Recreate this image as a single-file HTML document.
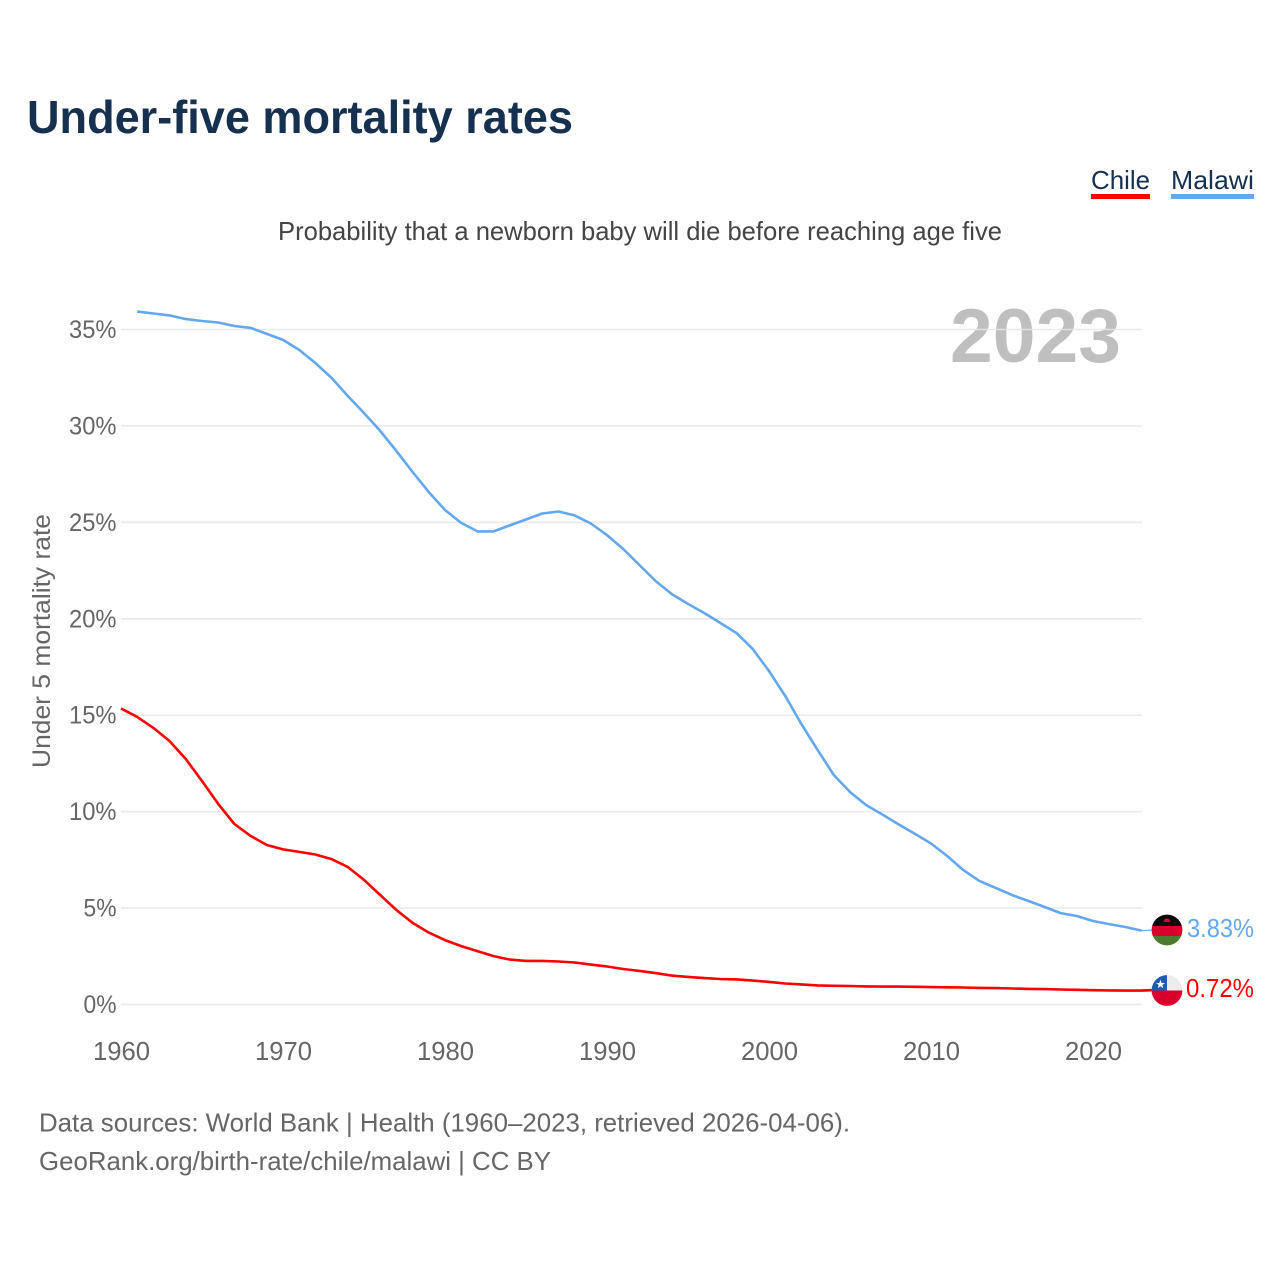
<!DOCTYPE html>
<html lang="en">
<head>
<meta charset="utf-8">
<title>Under-five mortality rates</title>
<style>
html,body{margin:0;padding:0;background:#fff;width:1280px;height:1280px;overflow:hidden}
svg{display:block;font-family:"Liberation Sans",sans-serif}
</style>
</head>
<body>
<svg id="chart" xmlns="http://www.w3.org/2000/svg" width="1280" height="1280" viewBox="0 0 1280 1280">
  <rect width="1280" height="1280" fill="#fff"/>
  <text x="27" y="133" font-size="46" font-weight="700" fill="#16304f" textLength="546" lengthAdjust="spacingAndGlyphs">Under-five mortality rates</text>
  <g>
    <g>
      <text x="1091" y="189" font-size="26" fill="#16304f" textLength="59" lengthAdjust="spacingAndGlyphs">Chile</text>
      <rect x="1091" y="194" width="59" height="5" fill="#ff0000"/>
    </g>
    <g>
      <text x="1171" y="189" font-size="26" fill="#16304f" textLength="83" lengthAdjust="spacingAndGlyphs">Malawi</text>
      <rect x="1171" y="194" width="83" height="5" fill="#63a8ef"/>
    </g>
  </g>
  <text x="278" y="240" font-size="26" fill="#444" textLength="724" lengthAdjust="spacingAndGlyphs">Probability that a newborn baby will die before reaching age five</text>
  <text x="950" y="362" font-size="76" font-weight="700" fill="#bfbfbf" textLength="171" lengthAdjust="spacingAndGlyphs">2023</text>
  <g id="grid"></g>
  <g id="yticks"></g>
  <g id="xticks"></g>
  <text transform="translate(50,768) rotate(-90)" font-size="25" fill="#666" textLength="254" lengthAdjust="spacingAndGlyphs">Under 5 mortality rate</text>
  <g id="series"></g>
  <defs>
    <clipPath id="clip-malawi"><circle cx="1167" cy="930" r="15.4"/></clipPath>
    <clipPath id="clip-chile"><circle cx="1167" cy="990.5" r="15.4"/></clipPath>
  </defs>
  <g clip-path="url(#clip-malawi)">
    <rect x="1151" y="914" width="32" height="12" fill="#0c0c0c"/>
    <rect x="1151" y="926" width="32" height="10" fill="#d9002c"/>
    <rect x="1151" y="936" width="32" height="11" fill="#4d7a2e"/>
    <path d="M1163.5 922 a3.5 3.5 0 0 1 7 0z" fill="#d9002c"/>
  </g>
  <g clip-path="url(#clip-chile)">
    <rect x="1151" y="975" width="32" height="15.5" fill="#ececec"/>
    <rect x="1151" y="990.5" width="32" height="16" fill="#d9002c"/>
    <rect x="1151" y="975" width="16" height="15.5" fill="#1d5cb4"/>
    <polygon points="1160.5,979.5 1161.7,983 1165,983 1162.3,985 1163.3,988.3 1160.5,986.3 1157.7,988.3 1158.7,985 1156,983 1159.3,983" fill="#fff"/>
  </g>
  <text x="1187" y="937" font-size="25.6" fill="#63a8ef" textLength="67" lengthAdjust="spacingAndGlyphs">3.83%</text>
  <text x="1186" y="997" font-size="25.6" fill="#ff0000" textLength="68" lengthAdjust="spacingAndGlyphs">0.72%</text>
  <text x="39" y="1131.5" font-size="26" fill="#666" textLength="811" lengthAdjust="spacingAndGlyphs">Data sources: World Bank | Health (1960–2023, retrieved 2026-04-06).</text>
  <text x="39" y="1170" font-size="26" fill="#666" textLength="512" lengthAdjust="spacingAndGlyphs">GeoRank.org/birth-rate/chile/malawi | CC BY</text>
</svg>
<script>
const yTickValues = [0, 5, 10, 15, 20, 25, 30, 35];
const xTickYears = [1960, 1970, 1980, 1990, 2000, 2010, 2020];
const malawiStartYear = 1961;
const malawiValues = [35.93,35.83,35.73,35.54,35.44,35.36,35.18,35.08,34.77,34.46,33.94,33.26,32.49,31.55,30.67,29.74,28.70,27.61,26.57,25.64,24.97,24.53,24.53,24.84,25.15,25.46,25.56,25.36,24.94,24.34,23.62,22.79,21.96,21.28,20.77,20.30,19.78,19.26,18.43,17.29,16.00,14.54,13.20,11.90,11.02,10.34,9.85,9.34,8.85,8.35,7.70,6.97,6.40,6.04,5.68,5.37,5.06,4.74,4.59,4.33,4.17,4.02,3.83];
const chileStartYear = 1960;
const chileValues = [15.35,14.91,14.34,13.66,12.73,11.59,10.40,9.36,8.74,8.27,8.04,7.91,7.78,7.54,7.13,6.46,5.68,4.90,4.23,3.73,3.34,3.03,2.77,2.51,2.33,2.26,2.26,2.23,2.18,2.07,1.97,1.84,1.74,1.63,1.50,1.43,1.37,1.32,1.30,1.24,1.17,1.09,1.04,0.99,0.97,0.96,0.94,0.93,0.93,0.92,0.90,0.89,0.88,0.86,0.85,0.83,0.81,0.80,0.78,0.76,0.74,0.73,0.72,0.72,0.76];

const NS = 'http://www.w3.org/2000/svg';
function xScale(year) { return 121 + (year - 1960) * 16.2; }
function yScale(value) { return 1004.5 - value * 19.286; }
function make(tag, parent, attrs) {
  const el = document.createElementNS(NS, tag);
  for (const k in attrs) el.setAttribute(k, attrs[k]);
  parent.appendChild(el);
  return el;
}
const grid = document.getElementById('grid');
const yticks = document.getElementById('yticks');
const xticks = document.getElementById('xticks');
const series = document.getElementById('series');

yTickValues.forEach(function (v) {
  const line = make('line', grid, {x1: 121, x2: 1142, y1: yScale(v), y2: yScale(v), stroke: '#e6e6e6', 'stroke-width': 1.6, 'stroke-opacity': 0.85});
  
  
  const label = make('text', yticks, {x: 116.5, y: yScale(v) + 8.5, 'font-size': 25, fill: '#666', 'text-anchor': 'end', textLength: v < 10 ? 33 : 47.5, lengthAdjust: 'spacingAndGlyphs'});
  label.textContent = v + '%';
  
  
});

xTickYears.forEach(function (y) {
  const label = make('text', xticks, {x: xScale(y) + 0.5, y: 1060, 'font-size': 25.6, fill: '#666', 'text-anchor': 'middle', textLength: 57, lengthAdjust: 'spacingAndGlyphs'});
  label.textContent = String(y);
  
  
});

function linePoints(startYear, values) {
  return values.map(function (v, i) { return xScale(startYear + i).toFixed(1) + ',' + yScale(v).toFixed(1); }).join(' ');
}

const malawiLine = make('polyline', series, {points: linePoints(malawiStartYear, malawiValues), fill: 'none', stroke: '#63a8ef', 'stroke-width': 2.6, 'stroke-linejoin': 'round'});



const chileLine = make('polyline', series, {points: linePoints(chileStartYear, chileValues), fill: 'none', stroke: '#ff0000', 'stroke-width': 2.6, 'stroke-linejoin': 'round'});



const malawiEnd = malawiValues[malawiValues.length - 1];
const chileEnd = chileValues[chileValues.length - 1];
const malawiLeader = make('line', series, {x1: xScale(2023), x2: 1153, y1: yScale(malawiEnd), y2: 930, stroke: '#63a8ef', 'stroke-width': 1.2});


const chileLeader = make('line', series, {x1: xScale(2023), x2: 1153, y1: yScale(chileEnd), y2: 990, stroke: '#ff0000', 'stroke-width': 1.2});


</script>
</body>
</html>
